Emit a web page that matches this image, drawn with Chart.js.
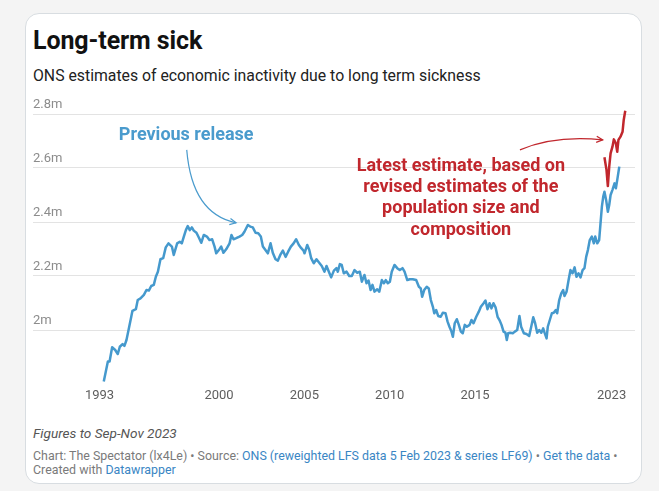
<!DOCTYPE html>
<html>
<head>
<meta charset="utf-8">
<script src="https://cdn.jsdelivr.net/npm/chart.js@4.4.1/dist/chart.umd.min.js"></script>
<style>
  html, body { margin: 0; padding: 0; }
  body { width: 659px; height: 491px; background: #f4f4f4; position: relative; overflow: hidden; font-family: Roboto, sans-serif; }
  .card { position: absolute; left: 25px; top: 13px; width: 615px; height: 469px; background: #fff; border: 1px solid #d8dde1; border-radius: 14px; }
  .t { position: absolute; left: 33px; white-space: nowrap; }
  #title { top: 28px; font-size: 25px; line-height: 25px; font-weight: 700; color: #111; letter-spacing: -0.1px; }
  #sub { top: 67.7px; font-size: 15.8px; line-height: 15.8px; color: #222; }
  #note { top: 427px; font-size: 13.6px; line-height: 13.6px; font-style: italic; color: #555; }
  #src1 { top: 449px; font-size: 12.4px; line-height: 13px; color: #7a7a7a; }
  #src2 { top: 463px; font-size: 12.4px; line-height: 13px; color: #7a7a7a; }
  .lk { color: #3a86c4; }
  #wrap { position: absolute; left: 33px; top: 90px; width: 602px; height: 320px; }
</style>
</head>
<body>
<div class="card"></div>
<div class="t" id="title">Long-term sick</div>
<div class="t" id="sub">ONS estimates of economic inactivity due to long term sickness</div>
<div id="wrap"><canvas id="c" width="602" height="320"></canvas></div>
<div class="t" id="note">Figures to Sep-Nov 2023</div>
<div class="t" id="src1">Chart: The Spectator (lx4Le) • Source: <span class="lk">ONS (reweighted LFS data 5 Feb 2023 &amp; series LF69)</span> • <span class="lk">Get the data</span> •</div>
<div class="t" id="src2">Created with <span class="lk">Datawrapper</span></div>
<script>
// ---- Data (millions, x = decimal year) ----
const blueYears = [
1993.25,1993.49,1993.59,1993.74,1993.92,1994.07,1994.19,1994.35,1994.46,1994.58,1994.74,1994.86,1994.93,1995.13,1995.24,1995.40,1995.60,1995.75,1995.89,1996.03,1996.18,1996.30,1996.42,1996.57,1996.73,1996.88,1997.04,1997.24,1997.35,1997.55,1997.70,1997.82,1997.94,1998.06,1998.17,1998.29,1998.41,1998.52,1998.68,1998.84,1998.96,1999.11,
1999.29,1999.44,1999.60,1999.74,1999.84,1999.99,2000.13,2000.26,2000.42,2000.62,2000.73,2000.85,2001.01,2001.20,2001.36,2001.49,2001.69,2001.83,2001.98,2002.14,2002.30,2002.45,2002.57,2002.72,2002.86,2003.02,2003.15,2003.31,2003.45,2003.59,2003.74,2003.90,2004.05,2004.21,2004.37,2004.52,2004.68,2004.82,2004.95,
2005.01,2005.17,2005.29,2005.40,2005.55,2005.71,2005.87,2006.02,2006.18,2006.30,2006.46,2006.57,2006.73,2006.88,2006.96,2007.08,2007.19,2007.31,2007.47,2007.63,2007.78,2007.94,2008.10,2008.25,2008.37,2008.52,2008.64,2008.76,2008.88,2008.99,2009.11,2009.27,2009.39,2009.54,2009.66,2009.77,2009.89,2010.01,2010.12,2010.28,2010.44,2010.59,2010.75,2010.87,2011.03,2011.18,2011.35,
2011.55,2011.71,2011.82,2011.90,2012.02,2012.17,2012.29,2012.41,2012.53,2012.61,2012.72,2012.84,2012.99,2013.11,2013.27,2013.39,2013.50,2013.62,2013.70,2013.81,2013.93,2014.05,2014.17,2014.28,2014.40,2014.52,2014.68,2014.79,2014.91,2015.07,2015.22,2015.34,2015.50,2015.61,2015.73,2015.85,2015.96,2016.08,2016.20,2016.32,2016.43,2016.55,2016.67,2016.78,2016.86,2016.94,2017.06,2017.21,2017.33,
2017.47,2017.60,2017.70,2017.86,2018.01,2018.17,2018.29,2018.41,2018.52,2018.64,2018.76,2018.88,2018.99,2019.07,2019.19,2019.26,2019.38,2019.50,2019.61,2019.73,2019.81,2019.93,2020.05,2020.16,2020.24,2020.36,2020.48,2020.59,2020.71,2020.83,2020.94,2021.06,2021.18,2021.30,2021.41,
2021.51,2021.61,2021.72,2021.84,2021.96,2022.04,2022.16,2022.27,2022.35,2022.43,2022.51,2022.58,2022.68,2022.78,2022.86,2022.94,2023.05,2023.17,2023.25,2023.33,2023.45
];
const blueValues = [
1.809,1.883,1.883,1.936,1.926,1.911,1.938,1.948,1.941,1.963,2.012,2.049,2.071,2.077,2.111,2.117,2.130,2.148,2.146,2.163,2.167,2.197,2.216,2.262,2.266,2.306,2.321,2.309,2.278,2.321,2.327,2.321,2.346,2.370,2.385,2.370,2.380,2.368,2.360,2.340,2.323,2.352,
2.346,2.333,2.336,2.309,2.284,2.296,2.309,2.286,2.299,2.321,2.352,2.336,2.340,2.346,2.352,2.364,2.389,2.383,2.380,2.360,2.358,2.346,2.309,2.296,2.284,2.321,2.286,2.262,2.257,2.278,2.294,2.271,2.290,2.309,2.321,2.336,2.315,2.303,2.294,
2.284,2.315,2.296,2.266,2.247,2.262,2.249,2.237,2.216,2.237,2.212,2.195,2.220,2.229,2.216,2.244,2.241,2.210,2.216,2.200,2.200,2.222,2.212,2.216,2.179,2.204,2.173,2.183,2.148,2.167,2.142,2.151,2.142,2.185,2.173,2.185,2.173,2.179,2.216,2.241,2.229,2.222,2.229,2.216,2.185,2.188,2.188,
2.185,2.160,2.154,2.123,2.148,2.160,2.154,2.111,2.086,2.062,2.074,2.052,2.049,2.064,2.062,2.031,2.012,1.994,1.975,2.025,2.040,2.019,1.994,1.988,2.019,2.012,2.019,2.037,2.025,2.049,2.068,2.086,2.099,2.109,2.077,2.099,2.080,2.099,2.084,2.049,2.037,2.019,1.994,1.990,1.963,1.988,1.990,1.988,1.994,
2.000,2.052,2.012,1.988,1.985,1.978,2.012,2.047,2.025,1.990,2.000,1.990,2.006,1.990,1.969,2.012,2.037,2.062,2.064,2.074,2.062,2.111,2.136,2.148,2.126,2.142,2.185,2.222,2.210,2.232,2.197,2.210,2.195,2.222,2.229,
2.271,2.296,2.333,2.346,2.321,2.346,2.321,2.333,2.395,2.457,2.494,2.512,2.481,2.438,2.463,2.500,2.519,2.543,2.525,2.556,2.605
];
const redYears = [2022.58,2022.70,2022.78,2022.86,2022.94,2023.05,2023.13,2023.25,2023.33,2023.40,2023.52,2023.64,2023.71,2023.80];
const redValues = [2.640,2.593,2.533,2.605,2.654,2.679,2.706,2.691,2.660,2.704,2.716,2.734,2.778,2.812];
const yTicks = [2.0, 2.2, 2.4, 2.6, 2.8];
const yTickLabels = ['2m', '2.2m', '2.4m', '2.6m', '2.8m'];
const xTicks = [1993, 2000, 2005, 2010, 2015, 2023];
const xTickLabels = ['1993', '2000', '2005', '2010', '2015', '2023'];

const BLUE = '#4599cd';
const RED = '#c1272d';

const toPoints = (xs, ys) => xs.map((x, i) => ({ x: x, y: ys[i] }));

const annotationPlugin = {
  id: 'annos',
  afterDatasetsDraw(chart) {
    const ctx = chart.ctx;
    const xs = chart.scales.x, ys = chart.scales.y;
    const P = (yr, v) => [xs.getPixelForValue(yr), ys.getPixelForValue(v)];
    ctx.save();
    ctx.textAlign = 'center';
    ctx.textBaseline = 'middle';
    ctx.font = 'bold 18px Roboto';
    // Previous release
    ctx.fillStyle = '#4a9bcd';
    const pr = P(1998.08, 2.722);
    ctx.fillText('Previous release', pr[0], pr[1]);
    // Latest estimate
    ctx.fillStyle = RED;
    const lt = P(2014.17, 2.607);
    ['Latest estimate, based on', 'revised estimates of the', 'population size and', 'composition']
      .forEach((s, i) => ctx.fillText(s, lt[0], lt[1] + i * 21.4));
    // arrows
    const arrow = (a, c, b, color) => {
      ctx.strokeStyle = color;
      ctx.lineWidth = 1.2;
      ctx.beginPath();
      ctx.moveTo(a[0], a[1]);
      ctx.quadraticCurveTo(c[0], c[1], b[0], b[1]);
      ctx.stroke();
      const ang = Math.atan2(b[1] - c[1], b[0] - c[0]);
      const L = 7;
      ctx.beginPath();
      ctx.moveTo(b[0] - L * Math.cos(ang - 0.45), b[1] - L * Math.sin(ang - 0.45));
      ctx.lineTo(b[0], b[1]);
      ctx.lineTo(b[0] - L * Math.cos(ang + 0.45), b[1] - L * Math.sin(ang + 0.45));
      ctx.stroke();
    };
    arrow(P(1998.11, 2.667), P(1998.42, 2.430), P(2001.00, 2.397), '#4a9bcd');
    arrow(P(2017.63, 2.667), P(2019.68, 2.722), P(2022.48, 2.704), RED);
    ctx.restore();
  }
};

new Chart(document.getElementById('c'), {
  type: 'line',
  data: {
    datasets: [
      { data: toPoints(blueYears, blueValues), borderColor: BLUE, borderWidth: 2.5, pointRadius: 0, tension: 0, borderJoinStyle: 'round', order: 1 },
      { data: toPoints(redYears, redValues), borderColor: RED, borderWidth: 2.5, pointRadius: 0, tension: 0, borderJoinStyle: 'round', order: 0 }
    ]
  },
  options: {
    responsive: false,
    animation: false,
    events: [],
    layout: { padding: { top: 10.5, left: 0, right: 0, bottom: 0 } },
    plugins: { legend: { display: false }, tooltip: { enabled: false } },
    scales: {
      x: {
        type: 'linear',
        min: 1989.104,
        max: 2024.37,
        grid: { display: false, drawTicks: false },
        border: { display: false },
        afterBuildTicks: s => { s.ticks = xTicks.map(v => ({ value: v })); },
        afterFit: s => { s.height = 23.3; },
        ticks: {
          padding: 1,
          color: '#5e5e5e',
          font: { family: 'Roboto', size: 13 },
          maxRotation: 0,
          autoSkip: false,
          callback: (v) => xTickLabels[xTicks.indexOf(v)] ?? ''
        }
      },
      y: {
        min: 1.79,
        max: 2.85,
        grid: { color: '#e3e3e3', lineWidth: 1, drawTicks: false },
        border: { display: false },
        afterBuildTicks: s => { s.ticks = yTicks.map(v => ({ value: v })); },
        afterFit: s => { s.width = 0; },
        ticks: {
          mirror: true,
          padding: 0,
          labelOffset: -9,
          color: '#8c8c8c',
          font: { family: 'Roboto', size: 13 },
          callback: (v) => { const i = yTicks.findIndex(t => Math.abs(t - v) < 1e-9); return i >= 0 ? yTickLabels[i] : ''; }
        }
      }
    }
  },
  plugins: [annotationPlugin]
});
</script>
</body>
</html>
